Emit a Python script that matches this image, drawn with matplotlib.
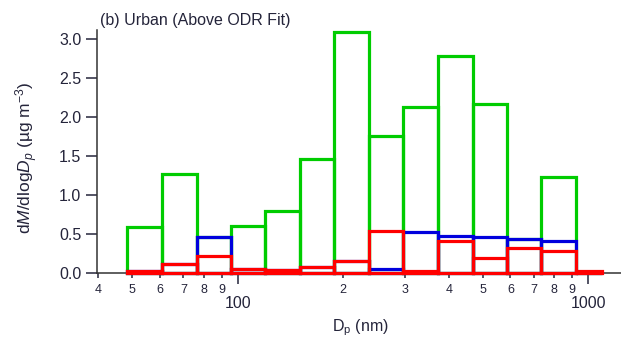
import numpy as np
import matplotlib
matplotlib.use("Agg")
import matplotlib.pyplot as plt
from matplotlib.ticker import FixedLocator, FixedFormatter

plt.rcParams['font.family'] = ['Liberation Sans', 'DejaVu Sans']
plt.rcParams['mathtext.fontset'] = 'custom'
plt.rcParams['mathtext.rm'] = 'Liberation Sans'
plt.rcParams['mathtext.it'] = 'Liberation Sans:italic'

# Size-bin edges (nm) and mass distributions per bin
bin_edges = [48.4, 60.7, 76.3, 95.8, 120.0, 150.4, 188.6, 237.0, 296.8,
             372.5, 467.5, 586.0, 735.0, 922.0, 1094.0]
green_vals = [0.59, 1.27, 0.46, 0.61, 0.795, 1.465, 3.09, 1.76, 2.13,
              2.79, 2.17, 0.435, 1.23, 0.0]
blue_vals = [0.03, 0.115, 0.46, 0.05, 0.04, 0.08, 0.155, 0.055, 0.525,
             0.48, 0.46, 0.435, 0.41, 0.0]
red_vals = [0.03, 0.115, 0.225, 0.05, 0.04, 0.08, 0.155, 0.54, 0.03,
            0.42, 0.20, 0.325, 0.285, 0.03]

series = [(green_vals, '#00CC00'), (blue_vals, '#0000DD'), (red_vals, '#FF0000')]

minor_ticks = [40, 50, 60, 70, 80, 90, 200, 300, 400, 500, 600, 700, 800, 900]
minor_labels = ['4', '5', '6', '7', '8', '9', '2', '3', '4', '5', '6', '7', '8', '9']
major_ticks = [100, 1000]
major_labels = ['100', '1000']
y_ticks = [0.0, 0.5, 1.0, 1.5, 2.0, 2.5, 3.0]

W, H = 621, 339
fig = plt.figure(figsize=(W / 100, H / 100), dpi=100)
ax = fig.add_axes([96.7 / W, (H - 273.3) / H, (W - 96.7) / W, (273.3 - 30) / H])

edges = np.array(bin_edges)
lefts = edges[:-1]
widths = np.diff(edges)
for vals, col in series:
    ax.bar(lefts, vals, width=widths, align='edge', fill=False,
           edgecolor=col, linewidth=2.3, clip_on=False, zorder=3)

ax.set_xscale('log')
ax.set_xlim(39.6, 1240)
ax.set_ylim(0, 3.12)

txt = '#24243a'
ax.xaxis.set_major_locator(FixedLocator(major_ticks))
ax.xaxis.set_major_formatter(FixedFormatter(major_labels))
ax.xaxis.set_minor_locator(FixedLocator(minor_ticks))
ax.xaxis.set_minor_formatter(FixedFormatter(minor_labels))
ax.tick_params(axis='x', which='major', length=8, width=1.1, pad=8,
               labelsize=11.5, colors=txt)
ax.tick_params(axis='x', which='minor', length=3.5, width=1.1, pad=4,
               labelsize=9, colors=txt)
ax.set_yticks(y_ticks)
ax.set_yticklabels([f'{v:.1f}' for v in y_ticks])
ax.tick_params(axis='y', which='major', length=8, width=1.1, pad=3,
               labelsize=11.5, colors=txt)
ax.tick_params(axis='y', which='minor', length=0)

for s in ['top', 'right']:
    ax.spines[s].set_visible(False)
for s in ['left', 'bottom']:
    ax.spines[s].set_linewidth(1.1)
    ax.spines[s].set_color('#333333')

fig.text(100 / W, 1 - 20 / H, '(b) Urban (Above ODR Fit)', fontsize=11.5,
         color=txt, ha='left', va='center')
fig.text(27 / W, 1 - 157.5 / H,
         r'd$\it{M}$/dlog$\it{D_p}$ (µg m$^{-3}$)', fontsize=12.5,
         color=txt, rotation=90, ha='center', va='center')
fig.text(360 / W, 1 - 328 / H, r'D$_\mathrm{p}$ (nm)', fontsize=11.5,
         color=txt, ha='center', va='center')

fig.savefig('out.png', dpi=100)
